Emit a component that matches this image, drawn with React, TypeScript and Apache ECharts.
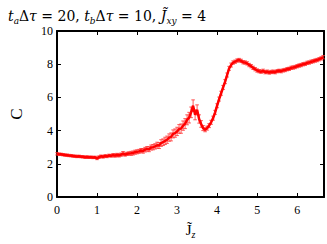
import React, { useEffect, useRef } from 'react';
import * as echarts from 'echarts';

// C values sampled every 0.05 in J_z from 0.00 to 6.65
const cValues = [
  2.60, 2.58, 2.57, 2.55, 2.53, 2.52, 2.50, 2.49, 2.47, 2.46,
  2.44, 2.45, 2.43, 2.42, 2.40, 2.41, 2.39, 2.40, 2.38, 2.39,
  2.33, 2.40, 2.45, 2.42, 2.47, 2.45, 2.50, 2.48, 2.52, 2.50,
  2.53, 2.51, 2.55, 2.62, 2.56, 2.60, 2.62, 2.63, 2.65, 2.70,
  2.72, 2.75, 2.80, 2.78, 2.85, 2.90, 2.88, 2.98, 3.00, 3.05,
  3.12, 3.10, 3.25, 3.30, 3.38, 3.45, 3.58, 3.62, 3.80, 3.85,
  3.95, 4.10, 4.12, 4.30, 4.42, 4.65, 4.78, 5.10, 5.50, 4.95,
  5.25, 4.70, 4.40, 4.15, 4.05, 4.15, 4.30, 4.50, 4.75, 5.10,
  5.50, 5.90, 6.25, 6.60, 6.95, 7.35, 7.75, 7.95, 8.10, 8.15,
  8.22, 8.25, 8.20, 8.12, 8.10, 8.05, 7.95, 7.88, 7.78, 7.70,
  7.62, 7.58, 7.55, 7.60, 7.52, 7.55, 7.50, 7.53, 7.55, 7.52,
  7.58, 7.60, 7.58, 7.63, 7.65, 7.70, 7.72, 7.78, 7.80, 7.83,
  7.88, 7.92, 7.95, 8.00, 8.02, 8.08, 8.10, 8.15, 8.18, 8.22,
  8.25, 8.30, 8.35, 8.42,
];

const cErrors = [
  0.07, 0.07, 0.07, 0.07, 0.07, 0.07, 0.07, 0.07, 0.07, 0.07,
  0.07, 0.07, 0.07, 0.07, 0.07, 0.07, 0.07, 0.07, 0.07, 0.07,
  0.08, 0.08, 0.08, 0.08, 0.08, 0.08, 0.08, 0.08, 0.10, 0.10,
  0.10, 0.10, 0.10, 0.12, 0.10, 0.10, 0.10, 0.12, 0.12, 0.12,
  0.12, 0.12, 0.12, 0.14, 0.14, 0.14, 0.15, 0.15, 0.16, 0.16,
  0.18, 0.18, 0.20, 0.20, 0.22, 0.22, 0.22, 0.24, 0.24, 0.25,
  0.25, 0.26, 0.28, 0.28, 0.30, 0.30, 0.32, 0.32, 0.35, 0.30,
  0.30, 0.25, 0.20, 0.15, 0.12, 0.12, 0.12, 0.12, 0.12, 0.12,
  0.12, 0.12, 0.12, 0.12, 0.12, 0.12, 0.12, 0.12, 0.10, 0.10,
  0.10, 0.10, 0.10, 0.10, 0.10, 0.10, 0.10, 0.10, 0.10, 0.10,
  0.10, 0.10, 0.10, 0.10, 0.10, 0.10, 0.10, 0.10, 0.10, 0.10,
  0.10, 0.10, 0.10, 0.10, 0.10, 0.10, 0.10, 0.10, 0.10, 0.10,
  0.10, 0.10, 0.10, 0.10, 0.10, 0.10, 0.10, 0.10, 0.10, 0.10,
  0.10, 0.10, 0.10, 0.10,
];

const jzStep = 0.05;
const jz = cValues.map((_, i) => +(i * jzStep).toFixed(2));

const xMin = 0;
const xMax = 6.67;
const xInterval = 1;
const yMin = 0;
const yMax = 10;
const yInterval = 2;

const serif = 'Liberation Serif';
const titleFont = 'DejaVu Serif';

export default function App() {
  const ref = useRef<HTMLDivElement>(null);
  useEffect(() => {
    const chart = echarts.init(ref.current!, null, { renderer: 'svg' });
    const lineData = cValues.map((v, i) => [jz[i], v]);
    const errData = cValues.map((v, i) => [jz[i], v - cErrors[i], v + cErrors[i]]);
    const intFmt = (v: number) => (Math.abs(v - Math.round(v)) < 1e-6 ? String(Math.round(v)) : '');
    const axisLine = { show: true, onZero: false, lineStyle: { color: '#000', width: 2 } };
    const axisTick = { show: true, inside: true, length: 4, lineStyle: { color: '#000', width: 1 } };
    chart.setOption({
      animation: false,
      backgroundColor: '#fff',
      title: {
        left: 3,
        top: 2,
        text: '{i|t}{s|a}{n|Δ}{i|τ}{n| = 20, }{i|t}{s|b}{n|Δ}{i|τ}{n| = 10, }{i|J̃}{s|xy}{n| = 4}',
        textStyle: {
          fontWeight: 'normal',
          rich: {
            i: { fontFamily: titleFont, fontStyle: 'italic', fontWeight: 'normal', fontSize: 14, color: '#000', lineHeight: 18 },
            n: { fontFamily: titleFont, fontWeight: 'normal', fontSize: 14, color: '#000', lineHeight: 18 },
            s: { fontFamily: titleFont, fontStyle: 'italic', fontWeight: 'normal', fontSize: 9, color: '#000', lineHeight: 12, verticalAlign: 'bottom' },
          },
        },
      },
      grid: { left: 47, right: 2, top: 31, bottom: 39, containLabel: false },
      xAxis: [
        {
          type: 'value', min: xMin, max: xMax, interval: xInterval, position: 'bottom',
          axisLine, axisTick, splitLine: { show: false },
          axisLabel: { formatter: intFmt, fontFamily: serif, fontSize: 12, color: '#000', margin: 7 },
          name: '{j|J̃}{s|z}', nameLocation: 'middle', nameGap: 24,
          nameTextStyle: {
            rich: {
              j: { fontFamily: serif, fontSize: 15, color: '#000', lineHeight: 18 },
              s: { fontFamily: serif, fontStyle: 'italic', fontSize: 10, color: '#000', lineHeight: 12, verticalAlign: 'bottom' },
            },
          },
        },
        {
          type: 'value', min: xMin, max: xMax, interval: xInterval, position: 'top',
          axisLine, axisTick, splitLine: { show: false }, axisLabel: { show: false },
        },
      ],
      yAxis: [
        {
          type: 'value', min: yMin, max: yMax, interval: yInterval, position: 'left',
          axisLine, axisTick, splitLine: { show: false },
          axisLabel: { fontFamily: serif, fontSize: 12, color: '#000', margin: 4 },
          name: 'C', nameLocation: 'middle', nameGap: 32, nameRotate: 90,
          nameTextStyle: { fontFamily: serif, fontSize: 17, color: '#000' },
        },
        {
          type: 'value', min: yMin, max: yMax, interval: yInterval, position: 'right',
          axisLine, axisTick, splitLine: { show: false }, axisLabel: { show: false },
        },
      ],
      series: [
        {
          type: 'custom',
          data: errData,
          renderItem: (params: any, api: any) => {
            const x = api.value(0);
            const lo = api.coord([x, api.value(1)]);
            const hi = api.coord([x, api.value(2)]);
            const cw = 1.8;
            const st = { stroke: '#ff3030', lineWidth: 0.8 };
            return {
              type: 'group',
              children: [
                { type: 'line', shape: { x1: lo[0], y1: lo[1], x2: hi[0], y2: hi[1] }, style: st },
                { type: 'line', shape: { x1: lo[0] - cw, y1: lo[1], x2: lo[0] + cw, y2: lo[1] }, style: st },
                { type: 'line', shape: { x1: hi[0] - cw, y1: hi[1], x2: hi[0] + cw, y2: hi[1] }, style: st },
              ],
            };
          },
          z: 2,
        },
        {
          type: 'line',
          data: lineData,
          showSymbol: false,
          lineStyle: { color: '#ff0000', width: 2.5 },
          itemStyle: { color: '#ff0000' },
          z: 3,
        },
      ],
    });
    return () => chart.dispose();
  }, []);
  return <div ref={ref} style={{ position: 'fixed', left: 0, top: 0, width: 327, height: 244 }} />;
}
